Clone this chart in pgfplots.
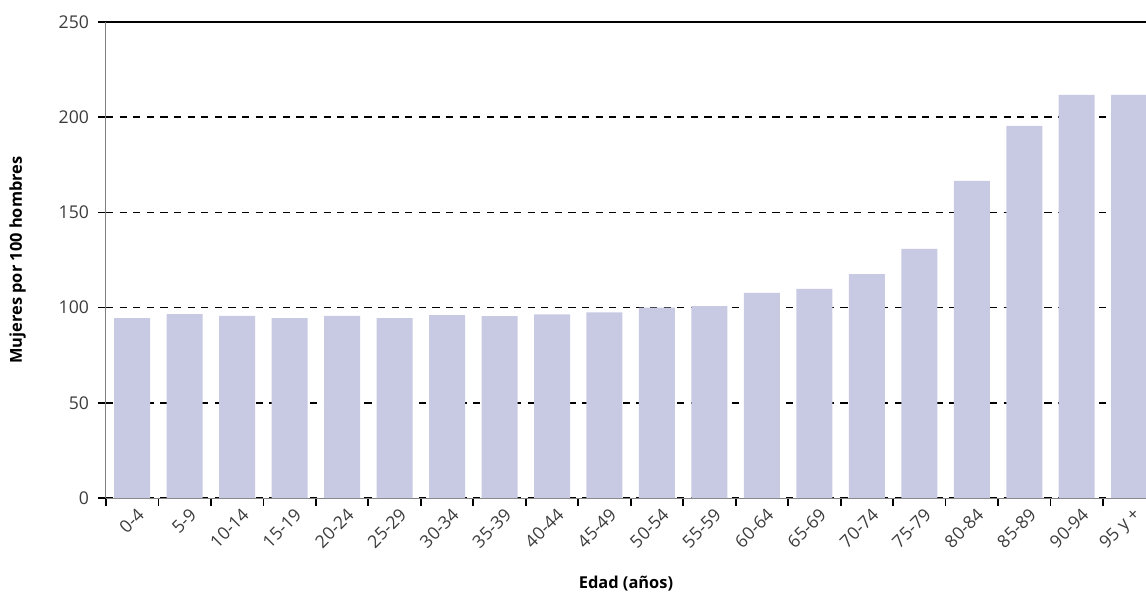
\documentclass[border=0pt]{standalone}
\usepackage{pgfplots}
\pgfplotsset{compat=1.18}
\usepackage{fontspec}
\setmainfont{Open Sans}
\definecolor{barfill}{RGB}{200,202,228}
\definecolor{ticktext}{RGB}{60,60,60}

\begin{document}
\begin{tikzpicture}
\begin{axis}[
    scale only axis,
    width=520pt, height=238pt,
    at={(0,0)}, anchor=south west,
    xmin=-0.5, xmax=19.32,
    ymin=0, ymax=250,
    ytick={0,50,100,150,200,250},
    xtick={-0.5,0.5,...,18.5},
    xticklabels={},
    extra x ticks={0,...,19},
    extra x tick labels={0-4,5-9,10-14,15-19,20-24,25-29,30-34,35-39,40-44,45-49,50-54,55-59,60-64,65-69,70-74,75-79,80-84,85-89,90-94,95 y +},
    extra x tick style={major tick length=0pt,
        xticklabel style={rotate=45, anchor=east, yshift=-8pt, xshift=1.5pt}},
    /pgf/number format/assume math mode=true,
    axis x line*=bottom, axis y line*=left,
    axis line style={gray, line width=0.5pt},
    tick align=outside,
    xtick style={black, line width=0.9pt},
    ytick style={black, line width=0.8pt},
    major tick length=4pt,
    ymajorgrids,
    grid style={black, line width=0.8pt, dash pattern=on 3.6pt off 3.2pt},
    tick label style={font=\fontsize{8.8}{10}\selectfont, text=ticktext},
    yticklabel style={xshift=-1pt},
    xlabel={\bfseries Edad (años)},
    ylabel={\bfseries Mujeres por 100 hombres},
    label style={font=\fontsize{8.2}{9}\selectfont},
    xlabel style={at={(axis description cs:0.5,-0.18)}, anchor=center},
    ylabel style={at={(axis description cs:-0.085,0.5)}, anchor=center},
    clip=true,
]
\addplot[ybar, bar width=18pt, fill=barfill, draw=none] coordinates {
    (0,94.5) (1,96.6) (2,95.6) (3,94.5) (4,95.6) (5,94.5) (6,96)
    (7,95.5) (8,96.5) (9,97.5) (10,100) (11,100.8) (12,107.7) (13,109.8)
    (14,117.6) (15,130.8) (16,166.5) (17,195.4) (18,211.7) (19,211.7)
};
\draw[black, line width=0.8pt] (axis cs:-0.5,250) -- (axis cs:19.32,250);
\end{axis}
\pgfresetboundingbox
\path (-53pt,-48pt) rectangle (520pt,249pt);
\end{tikzpicture}
\end{document}
